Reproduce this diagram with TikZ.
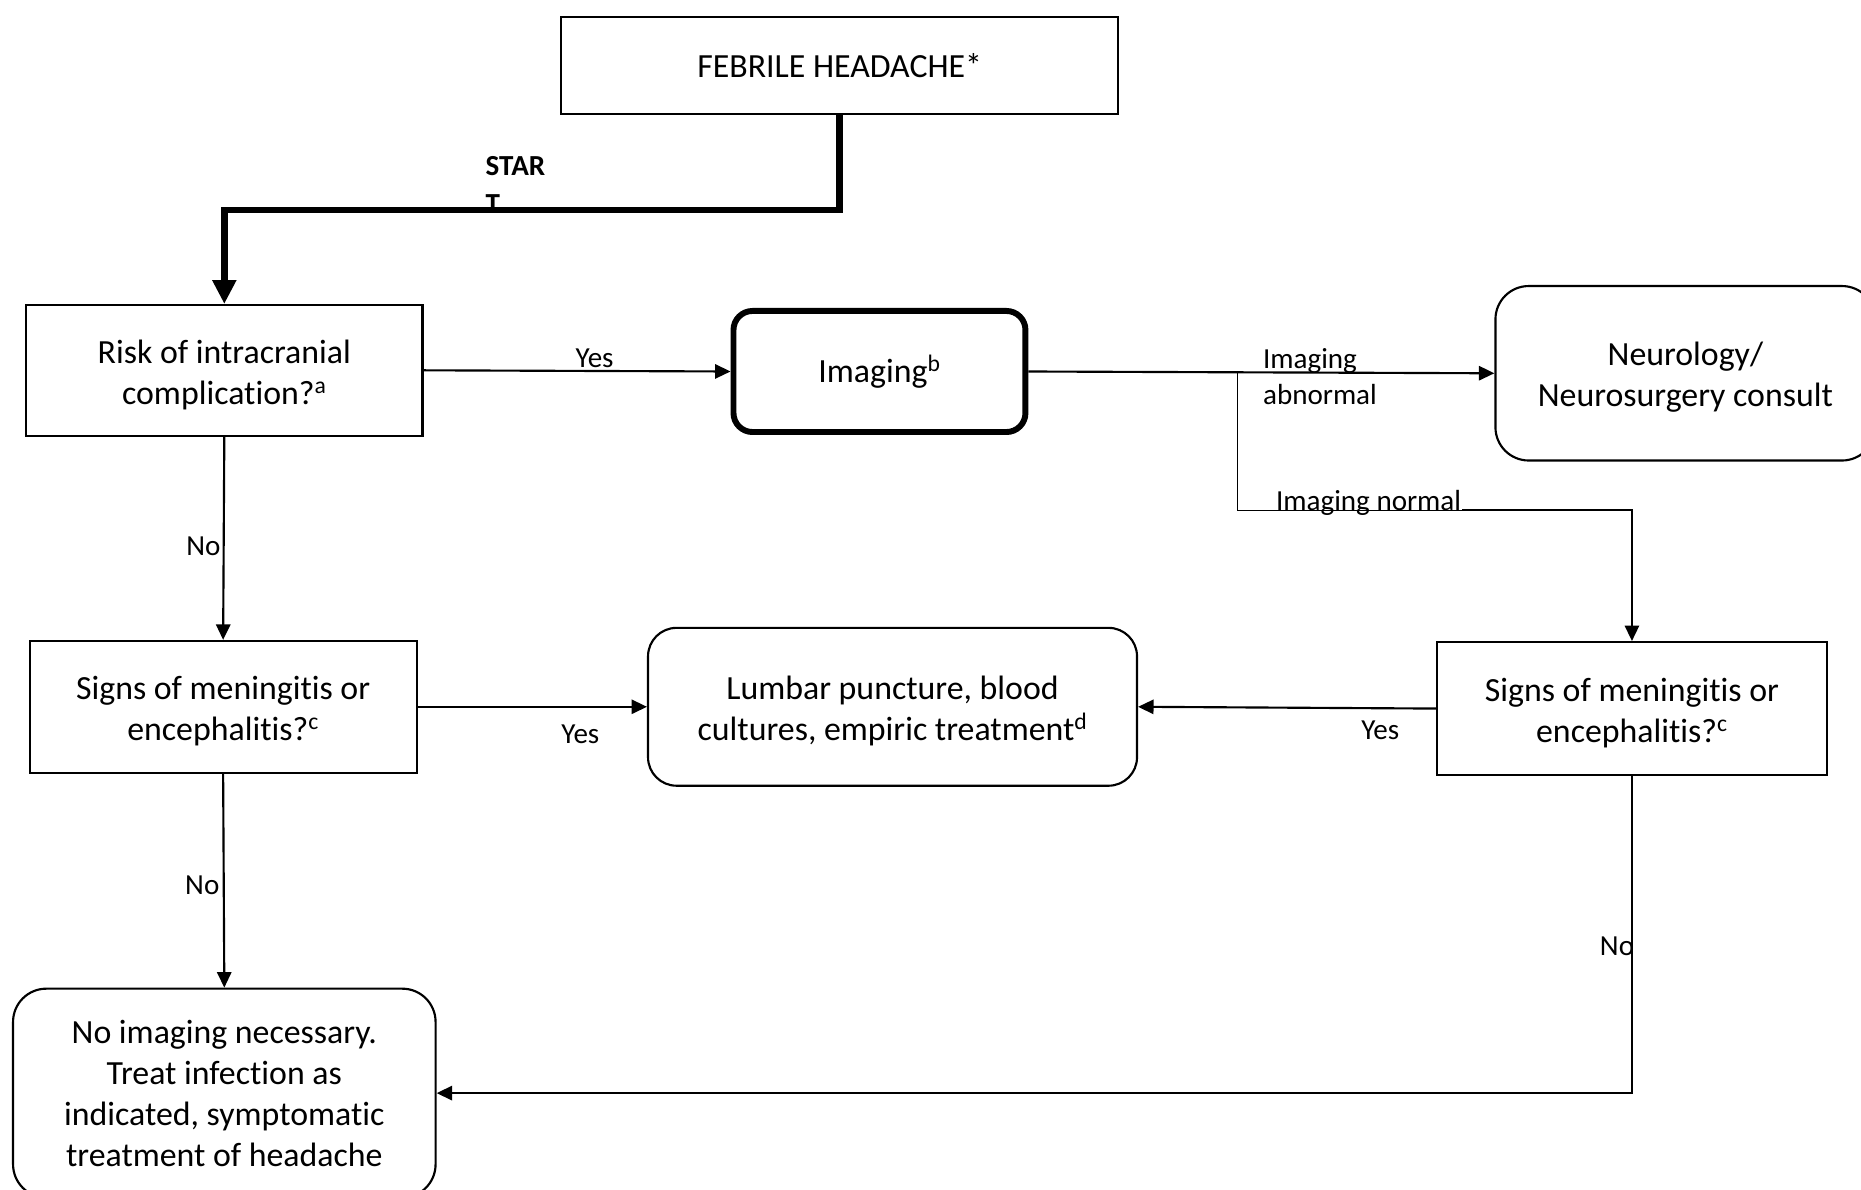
\documentclass[tikz,border=0pt]{standalone}
\usepackage{fontspec}
\setmainfont{Carlito}[Ligatures={NoCommon,NoContextual}]
\usetikzlibrary{arrows.meta}
% raises the first line of a two-line box so the text sits a little lower
\newcommand\tallstrut{\rule{0pt}{27pt}}
\begin{document}
\begin{tikzpicture}[x=1pt,y=-1pt,
  box/.style={draw, line width=1.8pt, inner sep=0pt, align=center,
    font=\fontsize{28.5}{34.5}\selectfont},
  rbox/.style={box, rounded corners=20pt},
  lbl/.style={font=\fontsize{24.5}{30.5}\selectfont, inner sep=0pt},
  conn/.style={line width=1.8pt, -{Triangle[length=13pt,width=12pt]}},
  startline/.style={line width=5.5pt, -{Triangle[length=20pt,width=19pt]}}]

\useasboundingbox (0,0) rectangle (1568,1002);
\clip (0,0) rectangle (1568,1002);

% boxes
\node[box, minimum width=469pt, minimum height=82pt] (feb) at (707.5,55) {FEBRILE HEADACHE*};
\node[box, minimum width=334pt, minimum height=110pt] (risk) at (189,312)
  {\tallstrut Risk of intracranial\\complication?\textsuperscript{a}};
\node[rbox, line width=5pt, rounded corners=16pt, minimum width=246pt, minimum height=102pt] (img) at (741,313)
  {\rule{0pt}{23pt}Imaging\textsuperscript{b}};
\node[rbox, rounded corners=28pt, minimum width=320pt, minimum height=147pt] (neuro) at (1420,314.5)
  {\tallstrut Neurology/\\Neurosurgery consult};
\node[box, minimum width=326pt, minimum height=111pt] (sigL) at (188,595.5)
  {\tallstrut Signs of meningitis or\\encephalitis?\textsuperscript{c}};
\node[rbox, rounded corners=24pt, minimum width=412pt, minimum height=133pt] (lp) at (752,595.5)
  {\tallstrut Lumbar puncture, blood\\cultures, empiric treatment\textsuperscript{d}};
\node[box, minimum width=328pt, minimum height=112pt] (sigR) at (1375,597)
  {\tallstrut Signs of meningitis or\\encephalitis?\textsuperscript{c}};
\node[rbox, rounded corners=28pt, minimum width=356pt, minimum height=176pt] (noimg) at (189,921)
  {No imaging necessary.\\Treat infection as\\indicated, symptomatic\\treatment of headache};

% start connector
\coordinate (s2) at (189,177);
\draw[startline] (feb.south) |- (s2) -- (risk.north);
\node[lbl, font=\bfseries\fontsize{24.5}{32}\selectfont, align=left, anchor=north west] (start) at (409,132) {STAR\\T};

% imaging branch
\draw[conn] (risk.east) -- (img.west);
\node[lbl] (yes1) at (501,302) {Yes};
\draw[conn] (img.east) -- (neuro.west);
\node[lbl, align=left, anchor=west] (abn) at (1064,317.5) {Imaging\\abnormal};
\coordinate (br) at (1043,314);
\coordinate (nm) at (1232,430);
\draw[line width=0.8pt] (br) |- (nm);
\draw[conn] (nm) -| (sigR.north);
\node[lbl, anchor=base west] (norm) at (1075,430) {Imaging normal};

% no-risk branch
\draw[conn] (risk.south) -- (sigL.north);
\node[lbl, anchor=east] (no1) at (186,460) {No};
\draw[conn] (sigL.east) -- (lp.west);
\node[lbl] (yes2) at (489,619) {Yes};
\draw[conn] (sigR.west) -- (lp.east);
\node[lbl] (yes3) at (1163,615) {Yes};
\draw[conn] (sigL.south) -- (noimg.north);
\node[lbl, anchor=east] (no2) at (185,746) {No};
\draw[conn] (sigR.south) |- (noimg.east);
\node[lbl, anchor=east] (no3) at (1377,797) {No};
\end{tikzpicture}
\end{document}
